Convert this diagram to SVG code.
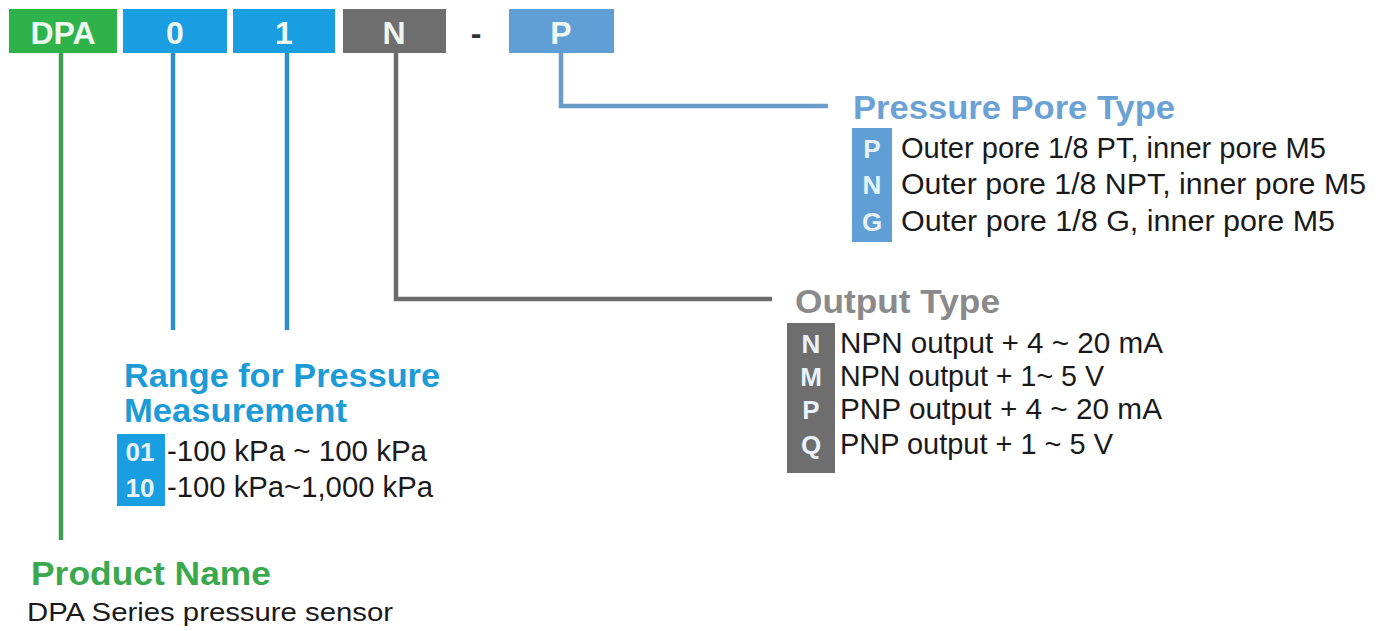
<svg xmlns="http://www.w3.org/2000/svg" width="1384" height="631" viewBox="0 0 1384 631">
<style>
text{font-family:"Liberation Sans",Arial,Helvetica,sans-serif}
.code{font-size:32px;font-weight:bold;fill:#eef8ee;text-anchor:middle}
.title{font-size:34px;font-weight:bold}
.item{font-size:29px;fill:#1a1a1a}
.key{font-size:26px;font-weight:bold;fill:#e8f2fa;text-anchor:middle}
.ln{fill:none;stroke-width:4.5;stroke-linecap:butt;stroke-linejoin:miter}
</style>
<rect width="1384" height="631" fill="#ffffff"/>
<g id="connectors">
<path class="ln" stroke="#3f9e50" d="M61 53 V540"/>
<path class="ln" stroke="#2a8fcb" d="M173 53 V330"/>
<path class="ln" stroke="#2a8fcb" d="M287 53 V330"/>
<path class="ln" stroke="#6c6c6c" d="M396 53 V299 H772"/>
<path class="ln" stroke="#6b9cc9" d="M561 53 V106 H828"/>
</g>
<g id="code-dpa"><rect x="9" y="9" width="108" height="44" fill="#2db34a"/><text class="code" x="63" y="44">DPA</text></g>
<g id="code-0"><rect x="123" y="9" width="104" height="44" fill="#1a9ee2"/><text class="code" x="175" y="44">0</text></g>
<g id="code-1"><rect x="233" y="9" width="102" height="44" fill="#1a9ee2"/><text class="code" x="284" y="44">1</text></g>
<g id="code-n"><rect x="343" y="9" width="103" height="44" fill="#6e6e6e"/><text class="code" x="394" y="44">N</text></g>
<g id="code-dash"><text class="code" x="476" y="44" style="fill:#333">-</text></g>
<g id="code-p"><rect x="509" y="9" width="105" height="44" fill="#5f9fd6"/><text class="code" x="561" y="44">P</text></g>
<g id="pore-type">
<text class="title" x="853" y="119" fill="#6aa2d6" textLength="322" lengthAdjust="spacingAndGlyphs">Pressure Pore Type</text>
<rect x="852" y="128" width="40" height="114" fill="#5f9fd6"/>
<text class="key" x="872" y="158">P</text>
<text class="key" x="872" y="194">N</text>
<text class="key" x="872" y="231">G</text>
<text class="item" x="901" y="158" textLength="425" lengthAdjust="spacingAndGlyphs">Outer pore 1/8 PT, inner pore M5</text>
<text class="item" x="901" y="194" textLength="465" lengthAdjust="spacingAndGlyphs">Outer pore 1/8 NPT, inner pore M5</text>
<text class="item" x="901" y="231" textLength="434" lengthAdjust="spacingAndGlyphs">Outer pore 1/8 G, inner pore M5</text>
</g>
<g id="output-type">
<text class="title" x="795" y="313" fill="#8a8a8a" textLength="205" lengthAdjust="spacingAndGlyphs">Output Type</text>
<rect x="787" y="323" width="48" height="150" fill="#6e6e6e"/>
<text class="key" x="811" y="353">N</text>
<text class="key" x="811" y="386">M</text>
<text class="key" x="811" y="419">P</text>
<text class="key" x="811" y="454">Q</text>
<text class="item" x="840" y="353" textLength="323" lengthAdjust="spacingAndGlyphs">NPN output + 4 ~ 20 mA</text>
<text class="item" x="840" y="386" textLength="264" lengthAdjust="spacingAndGlyphs">NPN output + 1~ 5 V</text>
<text class="item" x="840" y="419" textLength="322" lengthAdjust="spacingAndGlyphs">PNP output + 4 ~ 20 mA</text>
<text class="item" x="840" y="454" textLength="273" lengthAdjust="spacingAndGlyphs">PNP output + 1 ~ 5 V</text>
</g>
<g id="range">
<text class="title" x="124" y="387" fill="#1d9bd6" textLength="316" lengthAdjust="spacingAndGlyphs">Range for Pressure</text>
<text class="title" x="124" y="422" fill="#1d9bd6" textLength="223" lengthAdjust="spacingAndGlyphs">Measurement</text>
<rect x="117" y="434" width="48" height="72" fill="#1a9ee2"/>
<text class="key" x="140" y="461">01</text>
<text class="key" x="140" y="497">10</text>
<text class="item" x="167" y="461" textLength="260" lengthAdjust="spacingAndGlyphs">-100 kPa ~ 100 kPa</text>
<text class="item" x="167" y="497" textLength="266" lengthAdjust="spacingAndGlyphs">-100 kPa~1,000 kPa</text>
</g>
<g id="product-name">
<text class="title" x="31" y="585" fill="#3aa94e" textLength="240" lengthAdjust="spacingAndGlyphs">Product Name</text>
<text class="item" x="27" y="621" style="font-size:26px" textLength="366" lengthAdjust="spacingAndGlyphs">DPA Series pressure sensor</text>
</g>
</svg>
